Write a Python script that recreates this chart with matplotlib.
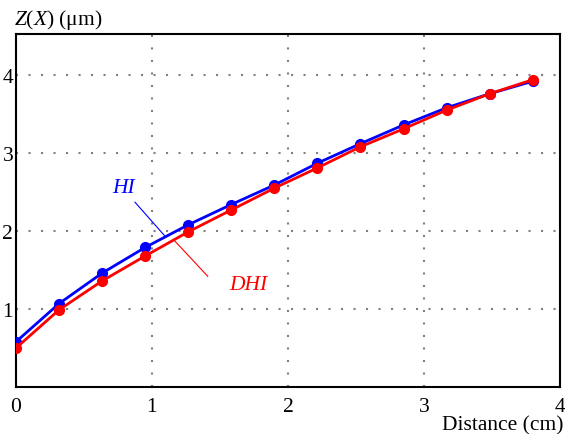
import numpy as np
import matplotlib.pyplot as plt

plt.rcParams['font.family'] = ['Liberation Serif', 'DejaVu Serif']
plt.rcParams['mathtext.fontset'] = 'custom'
plt.rcParams['mathtext.it'] = 'Liberation Serif:italic'
plt.rcParams['mathtext.rm'] = 'Liberation Serif'

distancia = [0.0, 0.317, 0.633, 0.95, 1.267, 1.583, 1.9, 2.217, 2.533, 2.85, 3.167, 3.483, 3.8]
z_hi = [0.58, 1.07, 1.46, 1.79, 2.08, 2.34, 2.59, 2.87, 3.12, 3.36, 3.58, 3.76, 3.92]
z_dhi = [0.50, 0.99, 1.36, 1.68, 1.99, 2.27, 2.55, 2.81, 3.08, 3.31, 3.55, 3.76, 3.94]

xticks = [0, 1, 2, 3, 4]
yticks = [1, 2, 3, 4]

fig = plt.figure(figsize=(5.65, 4.35), dpi=100)
ax = fig.add_axes([0.0283, 0.108, 0.9627, 0.8115])

ax.plot(distancia, z_hi, color='blue', lw=2, marker='o', ms=7, zorder=3)
ax.plot(distancia, z_dhi, color='red', lw=2, marker='o', ms=7, zorder=4)

ax.set_xlim(0, 4)
ax.set_ylim(0, 4.526)
ax.set_xticks(xticks)
ax.set_yticks(yticks)
ax.tick_params(length=0, labelsize=15.5)
ax.tick_params(axis='y', pad=2)
ax.tick_params(axis='x', pad=7)
ax.grid(True, color='gray', linestyle=(0, (1, 5)), linewidth=1.5)
for s in ax.spines.values():
    s.set_linewidth(1.5)
    s.set_color('black')

# etiquetas de las curvas
ax.text(0.794, 2.56, 'HI', color='blue', fontsize=15.5, style='italic', ha='center', va='center')
ax.plot([0.875, 1.103], [2.37, 1.92], color='blue', lw=0.8)
ax.text(1.71, 1.32, 'DHI', color='red', fontsize=15.5, style='italic', ha='center', va='center')
ax.plot([1.169, 1.41], [1.87, 1.42], color='red', lw=0.8)

fig.text(0.024, 0.955, '$Z(X)$ (μm)', fontsize=15.5, ha='left', va='center')
fig.text(0.997, 0.022, 'Distance (cm)', fontsize=15.5, ha='right', va='center')

fig.savefig('out.png', dpi=100)
